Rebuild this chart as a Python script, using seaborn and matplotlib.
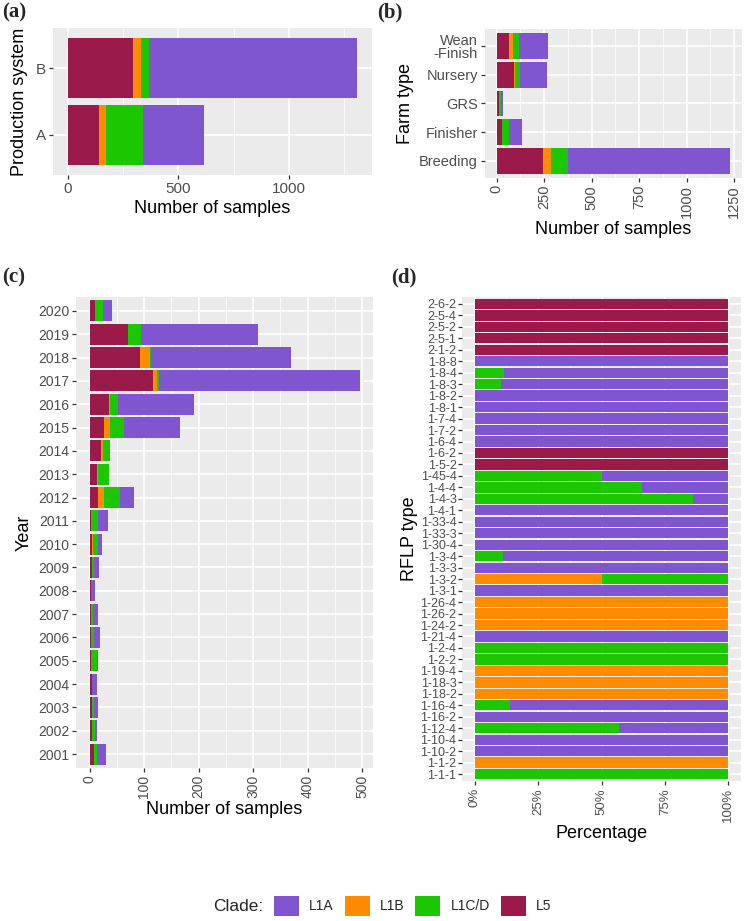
import matplotlib
matplotlib.use("Agg")
import matplotlib.pyplot as plt
from matplotlib.patches import Patch
from matplotlib.ticker import FixedLocator, MultipleLocator
import numpy as np
import pandas as pd
import seaborn as sns

# === Colours ===
clades = ["L1A", "L1B", "L1C/D", "L5"]
clade_colors = {"L1A": "#7F56D0", "L1B": "#FF8C00", "L1C/D": "#1CC600", "L5": "#9A1B4A"}

# === (a) Production system (top to bottom) ===
prod_cats = ["B", "A"]
prod_L5 = [295, 142]
prod_L1B = [37, 30]
prod_L1CD = [36, 167]
prod_L1A = [941, 279]

# === (b) Farm type (top to bottom) ===
farm_cats = ["Wean\n-Finish", "Nursery", "GRS", "Finisher", "Breeding"]
farm_L5 = [66, 91, 12, 27, 243]
farm_L1B = [19, 7, 2, 0, 42]
farm_L1CD = [33, 25, 9, 40, 91]
farm_L1A = [154, 140, 9, 64, 854]

# === (c) Year (top to bottom) ===
year_cats = [str(y) for y in range(2020, 2000, -1)]
year_L5 = [10, 70, 92, 116, 36, 27, 21, 13, 15, 3, 4, 5, 2, 3, 3, 3, 4, 4, 4, 8]
year_L1B = [0, 0, 18, 8, 2, 10, 3, 3, 12, 0, 3, 0, 0, 0, 0, 0, 0, 0, 0, 0]
year_L1CD = [14, 24, 2, 4, 14, 26, 14, 19, 29, 12, 8, 4, 1, 4, 5, 10, 1, 4, 6, 5]
year_L1A = [18, 214, 258, 367, 139, 103, 0, 0, 25, 18, 7, 9, 7, 9, 11, 3, 8, 7, 3, 17]

# === (d) RFLP type, percentages (top to bottom) ===
rflp_cats = ["2-6-2", "2-5-4", "2-5-2", "2-5-1", "2-1-2", "1-8-8", "1-8-4", "1-8-3",
             "1-8-2", "1-8-1", "1-7-4", "1-7-2", "1-6-4", "1-6-2", "1-5-2", "1-45-4",
             "1-4-4", "1-4-3", "1-4-1", "1-33-4", "1-33-3", "1-30-4", "1-3-4", "1-3-3",
             "1-3-2", "1-3-1", "1-26-4", "1-26-2", "1-24-2", "1-21-4", "1-2-4", "1-2-2",
             "1-19-4", "1-18-3", "1-18-2", "1-16-4", "1-16-2", "1-12-4", "1-10-4",
             "1-10-2", "1-1-2", "1-1-1"]
rflp_L5 = [100, 100, 100, 100, 100, 0, 0, 0, 0, 0, 0, 0, 0, 100, 100, 0, 0, 0, 0, 0, 0,
           0, 0, 0, 0, 0, 0, 0, 0, 0, 0, 0, 0, 0, 0, 0, 0, 0, 0, 0, 0, 0]
rflp_L1B = [0, 0, 0, 0, 0, 0, 0, 0, 0, 0, 0, 0, 0, 0, 0, 0, 0, 0, 0, 0, 0, 0, 0, 0,
            50, 0, 100, 100, 100, 0, 0, 0, 100, 100, 100, 0, 0, 0, 0, 0, 100, 0]
rflp_L1CD = [0, 0, 0, 0, 0, 0, 11.4, 10.3, 0, 0, 0.5, 0, 0, 0, 0, 50, 66, 86, 0, 0, 0,
             0, 11, 0, 50, 0, 0, 0, 0, 0, 100, 100, 0, 0, 0, 14, 0, 57, 0, 0, 0, 100]
rflp_L1A = [0, 0, 0, 0, 0, 100, 88.6, 89.7, 100, 100, 99.5, 100, 100, 0, 0, 50, 34, 14,
            100, 100, 100, 100, 89, 100, 0, 100, 0, 0, 0, 100, 0, 0, 0, 0, 0, 86, 100,
            43, 100, 100, 0, 0]

sns.set_theme(style="darkgrid", rc={"axes.facecolor": "#EBEBEB", "grid.color": "white"})
plt.rcParams["font.family"] = ["Liberation Sans", "DejaVu Sans"]

W, H = 750, 921
fig = plt.figure(figsize=(W / 100, H / 100), dpi=100)


def px_axes(left, top, right, bottom):
    return fig.add_axes([left / W, 1 - bottom / H, (right - left) / W, (bottom - top) / H])


def stacked(ax, cats, l5, l1b, l1cd, l1a, scale=1.0):
    l5, l1b, l1cd, l1a = (np.array(v, dtype=float) / scale for v in (l5, l1b, l1cd, l1a))
    df = pd.DataFrame({
        "cat": cats,
        "L5": l5,
        "L1B": l5 + l1b,
        "L1C/D": l5 + l1b + l1cd,
        "L1A": l5 + l1b + l1cd + l1a,
    })
    # draw from the longest cumulative bar down to the shortest
    for clade in ["L1A", "L1C/D", "L1B", "L5"]:
        sns.barplot(data=df, x=clade, y="cat", order=cats, color=clade_colors[clade],
                    orient="h", width=0.9, saturation=1, errorbar=None, linewidth=0, ax=ax)
    n = len(cats)
    ax.set_ylim(n - 1 + 0.6, -0.6)
    top = df["L1A"].max()
    ax.set_xlim(-0.05 * top, 1.05 * top)
    ax.grid(which="major", color="white", linewidth=1.1)
    ax.grid(which="minor", color="white", linewidth=0.5)
    ax.set_axisbelow(True)
    ax.tick_params(axis="both", which="major", length=3, width=0.9, color="#333333",
                   labelcolor="#4D4D4D", labelsize=9.5, pad=2, left=True, bottom=True)
    ax.tick_params(axis="both", which="minor", length=0)
    for s in ax.spines.values():
        s.set_visible(False)
    return top


label_kw = dict(fontsize=13, color="black")

# (a)
ax_a = px_axes(53, 28, 372, 175)
stacked(ax_a, prod_cats, prod_L5, prod_L1B, prod_L1CD, prod_L1A)
ax_a.xaxis.set_major_locator(FixedLocator([0, 500, 1000]))
ax_a.xaxis.set_minor_locator(FixedLocator([250, 750, 1250]))
ax_a.set_xlabel("Number of samples", labelpad=3, **label_kw)
ax_a.set_ylabel("Production system", labelpad=6, **label_kw)
ax_a.tick_params(axis="both", labelsize=11)

# (b)
ax_b = px_axes(485, 29, 742, 178)
stacked(ax_b, farm_cats, farm_L5, farm_L1B, farm_L1CD, farm_L1A)
ax_b.xaxis.set_major_locator(MultipleLocator(250))
ax_b.xaxis.set_minor_locator(FixedLocator([125, 375, 625, 875, 1125]))
ax_b.set_xlabel("Number of samples", labelpad=2, **label_kw)
ax_b.set_ylabel("Farm type", labelpad=4, **label_kw)
ax_b.tick_params(axis="both", labelsize=10.5)
plt.setp(ax_b.get_xticklabels(), rotation=90)
plt.setp(ax_b.get_yticklabels(), linespacing=0.95)

# (c)
ax_c = px_axes(76, 297, 373, 768)
stacked(ax_c, year_cats, year_L5, year_L1B, year_L1CD, year_L1A)
ax_c.xaxis.set_major_locator(MultipleLocator(100))
ax_c.xaxis.set_minor_locator(FixedLocator([50, 150, 250, 350, 450]))
ax_c.set_xlabel("Number of samples", labelpad=2, **label_kw)
ax_c.set_ylabel("Year", labelpad=4, **label_kw)
ax_c.tick_params(axis="both", labelsize=10)
plt.setp(ax_c.get_xticklabels(), rotation=90)

# (d)
ax_d = px_axes(462, 297, 741, 781)
stacked(ax_d, rflp_cats, rflp_L5, rflp_L1B, rflp_L1CD, rflp_L1A, scale=100.0)
ax_d.set_xlim(-0.05, 1.05)
ax_d.xaxis.set_major_locator(FixedLocator([0, 0.25, 0.5, 0.75, 1.0]))
ax_d.xaxis.set_minor_locator(FixedLocator([0.125, 0.375, 0.625, 0.875]))
ax_d.set_xticklabels(["0%", "25%", "50%", "75%", "100%"], rotation=90)
ax_d.set_xlabel("Percentage", labelpad=2, **label_kw)
ax_d.set_ylabel("RFLP type", labelpad=2, **label_kw)
ax_d.tick_params(axis="y", labelsize=9, pad=1)
ax_d.tick_params(axis="x", labelsize=9.5)

# panel letters
for txt, x, y in [("(a)", 2, 12), ("(b)", 377, 12), ("(c)", 2, 277), ("(d)", 391, 277)]:
    fig.text(x / W, 1 - y / H, txt, fontsize=15, fontweight="bold",
             family="Liberation Serif", va="center", ha="left")

# legend
fig.text(213 / W, 1 - 906 / H, "Clade:", fontsize=12.5, va="center", ha="left")
handles = [Patch(facecolor=clade_colors[c], edgecolor="none") for c in clades]
fig.legend(handles, clades, loc="center left", bbox_to_anchor=(274 / W, 1 - 906 / H),
           ncol=4, frameon=False, fontsize=10, handlelength=1.8, handleheight=1.8,
           handletextpad=0.72, columnspacing=0.8, borderpad=0, borderaxespad=0)

fig.savefig("out.png", dpi=100, facecolor="white")
